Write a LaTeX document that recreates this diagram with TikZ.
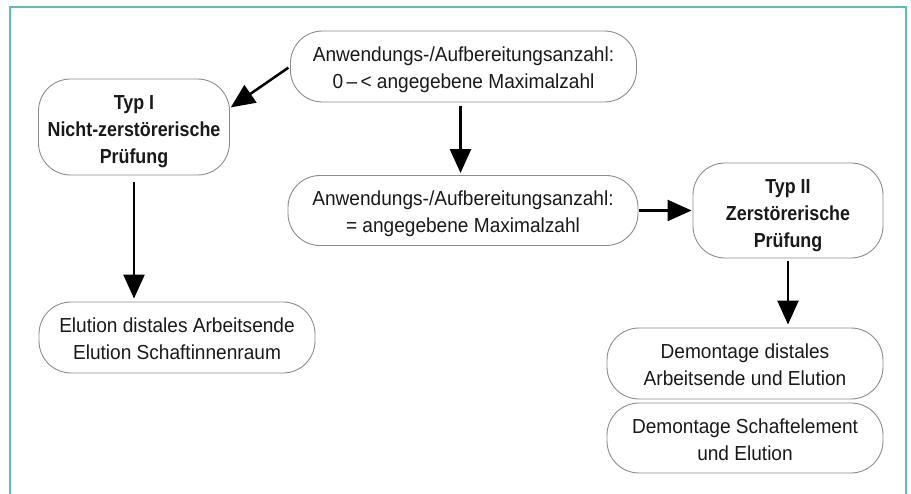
\documentclass[tikz,border=0pt]{standalone}
\usepackage{fontspec}
\setmainfont{Liberation Sans}[FakeStretch=0.94]
\newfontfamily\bcn{Liberation Sans Bold}[FakeStretch=0.88]
\usetikzlibrary{arrows.meta}
\definecolor{frameteal}{RGB}{92,190,180}
\definecolor{boxgray}{RGB}{140,140,140}
\definecolor{txt}{RGB}{25,25,25}
\tikzset{
  box/.style={draw=boxgray, line width=0.9pt, rounded corners=32pt, inner sep=0pt,
    align=center, text=txt, font=\fontsize{20.3}{27}\selectfont,
    text height=45pt, text depth=0pt},
  boldbox/.style={box, font=\bcn\fontsize{20.3}{27}\selectfont,
    text height=74pt, text depth=0pt},
  arr/.style={line width=2.5pt, -{Triangle[length=24pt, width=21pt]}},
}
\begin{document}
\begin{tikzpicture}[x=1pt, y=-1pt]
\useasboundingbox (0,0) rectangle (911,494);
\draw[frameteal, line width=1.6pt] (10,494) -- (10,7) -- (906,7) -- (906,494);

\node[box, minimum width=346pt, minimum height=71pt] (A) at (463.5,66.5)
  {Anwendungs-/Aufbereitungsanzahl:\\0\,--\,< angegebene Maximalzahl};
\node[boldbox, minimum width=191pt, minimum height=96pt] (T1) at (134,127)
  {Typ I\\Nicht-zerstörerische\\Prüfung};
\node[box, minimum width=350pt, minimum height=70pt] (B) at (463,210.5)
  {Anwendungs-/Aufbereitungsanzahl:\\= angegebene Maximalzahl};
\node[boldbox, minimum width=190pt, minimum height=95pt] (T2) at (788,210.5)
  {Typ II\\Zerstörerische\\Prüfung};
\node[box, minimum width=276pt, minimum height=71pt] (E) at (177,337.5)
  {Elution distales Arbeitsende\\Elution Schaftinnenraum};
\node[box, minimum width=276pt, minimum height=71pt] (D1) at (745,363.5)
  {Demontage distales\\Arbeitsende und Elution};
\node[box, minimum width=276pt, minimum height=70pt] (D2) at (745,438)
  {Demontage Schaftelement\\und Elution};

\draw[arr, shorten <=2pt, shorten >=1pt] (A.west) -- ([yshift=19pt]T1.east);
\draw[arr, shorten <=4pt, shorten >=2pt] ([xshift=-3pt]A.south) -- ([xshift=-3pt]A.south |- B.north);
\draw[arr, shorten <=1pt, shorten >=1pt] (B.east) -- (T2.west);
\draw[arr, shorten <=7pt, shorten >=3pt] (T1.south) -- (T1.south |- E.north);
\draw[arr, shorten <=3pt, shorten >=3pt] (T2.south) -- (T2.south |- D1.north);
\end{tikzpicture}
\end{document}
